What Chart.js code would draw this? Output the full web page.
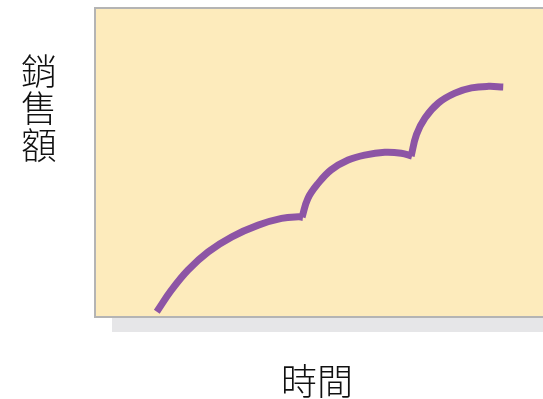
<!DOCTYPE html>
<html>
<head>
<meta charset="utf-8">
<script src="https://cdn.jsdelivr.net/npm/chart.js@4/dist/chart.umd.min.js"></script>
<style>
  html, body { margin: 0; padding: 0; background: #fff; }
  #wrap { width: 543px; height: 399px; }
</style>
</head>
<body>
<div id="wrap"><canvas id="salesChart" width="543" height="399"></canvas></div>
<script>
// 三段成長曲線（時間, 銷售額）
const stage1Time  = [13.6, 16.9, 20.6, 25.1, 30.4, 36.3, 41.5, 45.3, 46.3];
const stage1Sales = [1.4, 8.5, 15.0, 20.9, 25.8, 29.6, 31.8, 32.3, 32.1];

const stage2Time  = [46.1, 47.4, 49.7, 52.6, 56.4, 60.1, 64.6, 68.3, 70.7];
const stage2Sales = [32.2, 38.3, 43.2, 47.6, 50.8, 52.4, 53.3, 53.0, 52.1];

const stage3Time  = [70.5, 71.7, 73.6, 76.6, 80.3, 84.0, 87.8, 91.1];
const stage3Sales = [52.1, 59.1, 64.5, 69.4, 72.6, 74.3, 74.8, 74.6];

const yTitleChars = ['銷', '售', '額'];
const xTitle = '時間';

const LINE_COLOR = '#8d55a5';

function toPoints(xs, ys) {
    return xs.map((x, i) => ({ x, y: ys[i] }));
}

function stage(xs, ys) {
    return {
        data: toPoints(xs, ys),
        showLine: true,
        borderColor: LINE_COLOR,
        borderWidth: 7,
        borderCapStyle: 'butt',
        borderJoinStyle: 'round',
        tension: 0.4,
        pointRadius: 0,
        fill: false
    };
}

// plot panel: drop shadow, yellow fill, grey frame
const panelPlugin = {
    id: 'panel',
    beforeDraw(chart) {
        const { ctx, chartArea: a } = chart;
        ctx.save();
        ctx.fillStyle = '#e6e6e8';
        ctx.fillRect(a.left + 16, a.bottom + 1, a.right - a.left, 15);
        ctx.fillStyle = '#fdebbc';
        ctx.fillRect(a.left, a.top, a.right - a.left, a.bottom - a.top);
        ctx.strokeStyle = '#b4b4b4';
        ctx.lineWidth = 2;
        ctx.strokeRect(a.left - 1, a.top - 1, a.right - a.left + 10, a.bottom - a.top + 2);
        ctx.restore();
    }
};

// axis titles: vertical stacked y title, plain x title
const titlePlugin = {
    id: 'axisTitles',
    afterDraw(chart) {
        const { ctx } = chart;
        ctx.save();
        ctx.fillStyle = '#111';
        ctx.font = '300 36px "Noto Sans CJK TC"';
        ctx.textAlign = 'center';
        ctx.textBaseline = 'middle';
        yTitleChars.forEach((ch, i) => ctx.fillText(ch, 39, 71 + i * 37));
        ctx.fillText(xTitle, 317, 381);
        ctx.restore();
    }
};

const ctx = document.getElementById('salesChart').getContext('2d');
new Chart(ctx, {
    type: 'scatter',
    data: {
        datasets: [
            stage(stage1Time, stage1Sales),
            stage(stage2Time, stage2Sales),
            stage(stage3Time, stage3Sales)
        ]
    },
    options: {
        responsive: false,
        animation: false,
        devicePixelRatio: 1,
        layout: { padding: { left: 96, top: 9, right: 0, bottom: 83 } },
        plugins: { legend: { display: false }, tooltip: { enabled: false } },
        scales: {
            x: { type: 'linear', min: 0, max: 100, display: false },
            y: { type: 'linear', min: 0, max: 100, display: false }
        }
    },
    plugins: [panelPlugin, titlePlugin]
});
</script>
</body>
</html>
